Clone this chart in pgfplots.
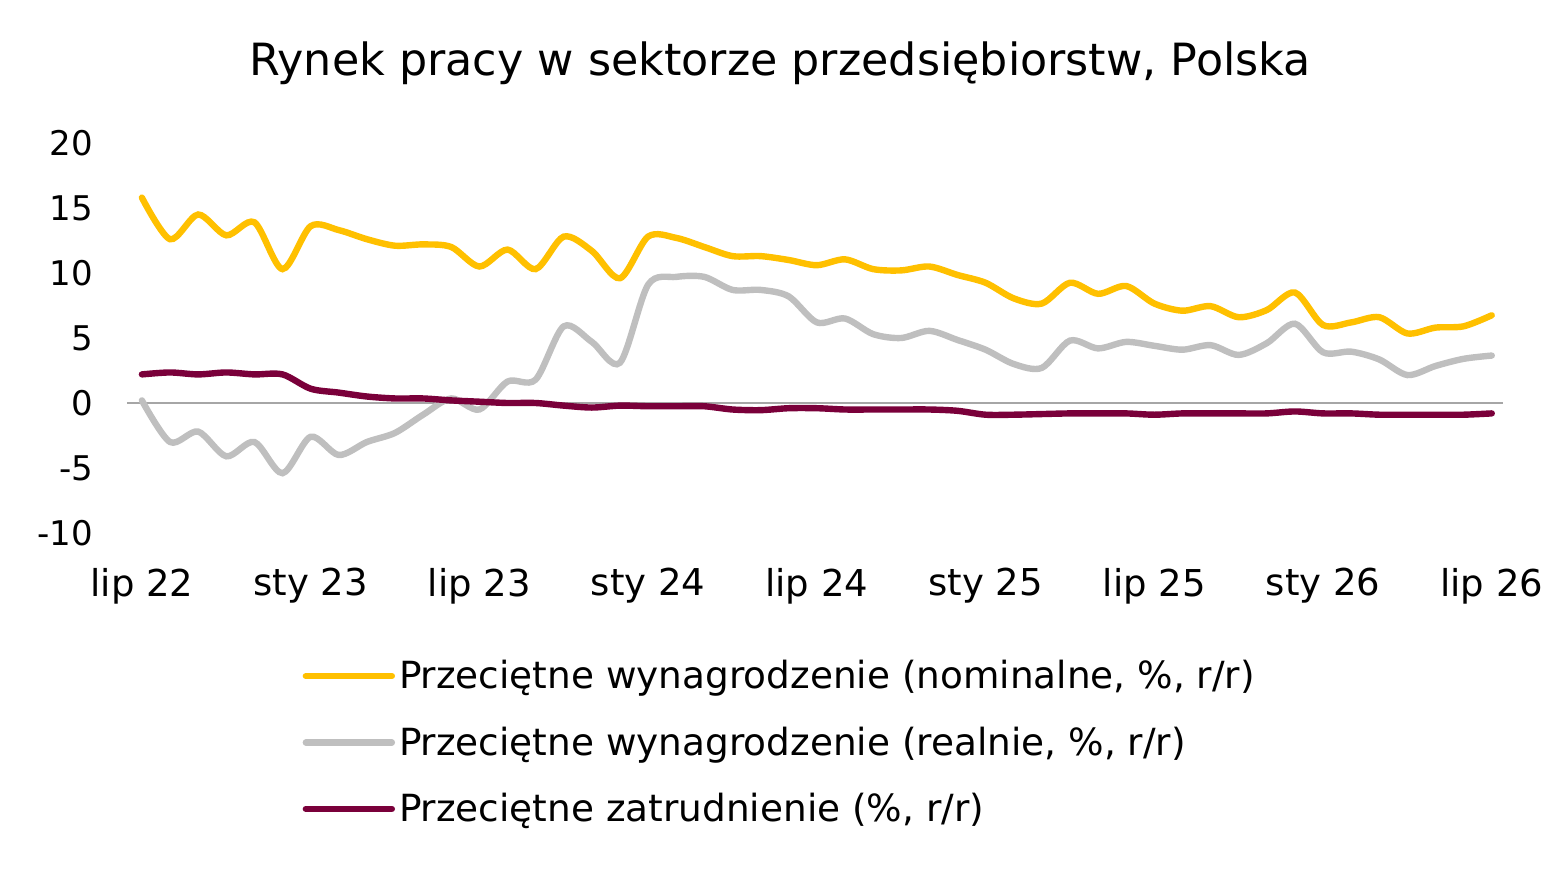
\documentclass[border=0pt]{standalone}
\usepackage{pgfplots}
\pgfplotsset{compat=1.18}
\usepackage{fontspec}
\setmainfont{DejaVu Sans}
\definecolor{cnom}{RGB}{255,192,0}
\definecolor{creal}{RGB}{191,191,191}
\definecolor{cemp}{RGB}{122,0,58}
\begin{document}
\begin{tikzpicture}
\path[use as bounding box] (-63.5pt,-167.5pt) rectangle (717pt,266.5pt);
\begin{axis}[
  scale only axis,
  width=688pt, height=195pt,
  at={(0,0)}, anchor=south west,
  xmin=-0.53, xmax=48.4,
  ymin=-10, ymax=20,
  axis line style={draw=none},
  major tick length=0pt,
  tick style={draw=none},
  xtick={0,6,12,18,24,30,36,42,48},
  xticklabels={lip 22,sty 23,lip 23,sty 24,lip 24,sty 25,lip 25,sty 26,lip 26},
  ytick={-10,-5,0,5,10,15,20},
  yticklabels={-10,-5,0,5,10,15,20},
  yticklabel style={font=\fontsize{17}{20}\selectfont, anchor=east, xshift=-13.5pt},
  xticklabel style={font=\fontsize{18.5}{22}\selectfont, anchor=north, yshift=-14pt},
  clip=false,
  legend style={at={(0.123,-0.305)}, anchor=north west, draw=none, fill=none,
    font=\fontsize{18.7}{22}\selectfont, row sep=13.5pt,
    /tikz/every even column/.append style={column sep=4pt}},
  legend cell align=left,
  legend image code/.code={\draw[#1, line cap=round] (0pt,0pt) -- (43pt,0pt);},
]
\addplot[forget plot, color=black!35, line width=0.6pt] coordinates {(-0.53,0) (48.4,0)};
\addplot[cnom, line width=3.2pt, smooth, tension=0.5, line cap=round] coordinates {
(0,15.8) (1,12.6) (2,14.5) (3,12.9) (4,13.9) (5,10.3) (6,13.6) (7,13.3) (8,12.6) (9,12.1)
(10,12.2) (11,12.0) (12,10.5) (13,11.8) (14,10.3) (15,12.8) (16,11.7) (17,9.6) (18,12.8) (19,12.7)
(20,12.0) (21,11.3) (22,11.3) (23,11.0) (24,10.6) (25,11.05) (26,10.3) (27,10.2) (28,10.5) (29,9.85)
(30,9.25) (31,8.05) (32,7.65) (33,9.25) (34,8.4) (35,9.0) (36,7.65) (37,7.1) (38,7.45) (39,6.6)
(40,7.15) (41,8.5) (42,6.0) (43,6.2) (44,6.6) (45,5.35) (46,5.8) (47,5.9) (48,6.75)};
\addlegendentry{Przeciętne wynagrodzenie (nominalne, \%, r/r)}
\addplot[creal, line width=3.2pt, smooth, tension=0.5, line cap=round] coordinates {
(0,0.2) (1,-3.0) (2,-2.2) (3,-4.1) (4,-3.0) (5,-5.4) (6,-2.6) (7,-4.0) (8,-3.0) (9,-2.3)
(10,-0.9) (11,0.35) (12,-0.5) (13,1.65) (14,1.8) (15,5.9) (16,4.7) (17,3.1) (18,9.1) (19,9.7)
(20,9.7) (21,8.7) (22,8.7) (23,8.2) (24,6.2) (25,6.5) (26,5.3) (27,5.0) (28,5.55) (29,4.85)
(30,4.1) (31,3.0) (32,2.7) (33,4.8) (34,4.2) (35,4.7) (36,4.4) (37,4.1) (38,4.45) (39,3.7)
(40,4.6) (41,6.1) (42,3.9) (43,3.95) (44,3.35) (45,2.15) (46,2.85) (47,3.4) (48,3.65)};
\addlegendentry{Przeciętne wynagrodzenie (realnie, \%, r/r)}
\addplot[cemp, line width=3.2pt, smooth, tension=0.5, line cap=round] coordinates {
(0,2.2) (1,2.35) (2,2.2) (3,2.35) (4,2.2) (5,2.2) (6,1.1) (7,0.8) (8,0.5) (9,0.35)
(10,0.35) (11,0.2) (12,0.1) (13,0.0) (14,0.0) (15,-0.2) (16,-0.35) (17,-0.2) (18,-0.25) (19,-0.25)
(20,-0.25) (21,-0.5) (22,-0.55) (23,-0.4) (24,-0.4) (25,-0.5) (26,-0.5) (27,-0.5) (28,-0.5) (29,-0.6)
(30,-0.9) (31,-0.9) (32,-0.85) (33,-0.8) (34,-0.8) (35,-0.8) (36,-0.9) (37,-0.8) (38,-0.8) (39,-0.8)
(40,-0.8) (41,-0.65) (42,-0.8) (43,-0.8) (44,-0.9) (45,-0.9) (46,-0.9) (47,-0.9) (48,-0.8)};
\addlegendentry{Przeciętne zatrudnienie (\%, r/r)}
\end{axis}
\node[font=\fontsize{22.2}{26}\selectfont] at (326.5pt,235pt) {Rynek pracy w sektorze przedsiębiorstw, Polska};
\end{tikzpicture}
\end{document}
